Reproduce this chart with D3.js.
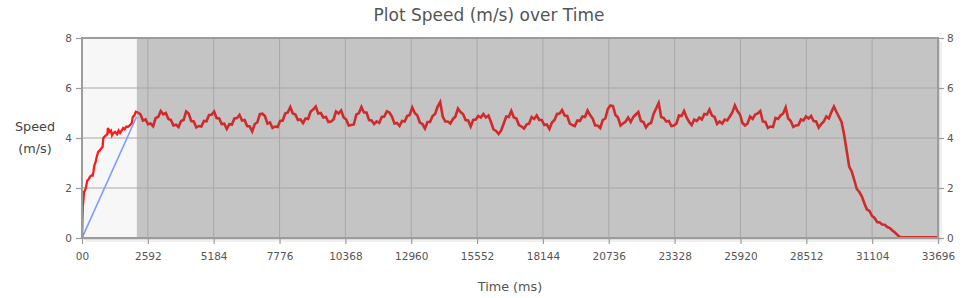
<!DOCTYPE html>
<html><head><meta charset="utf-8">
<script src="https://cdn.jsdelivr.net/npm/d3@7"></script>
<style>
body{margin:0;background:#fff}
svg{display:block;font-family:"DejaVu Sans",Verdana,sans-serif}
</style>
</head><body>
<svg id="chart" width="980" height="298"></svg>
<script>
// ---------- data ----------
const chartTitle = "Plot Speed (m/s) over Time";
const xAxisTitle = "Time (ms)";
const yAxisTitle = ["Speed", "(m/s)"];

const xTickValues = [0,2592,5184,7776,10368,12960,15552,18144,20736,23328,25920,28512,31104,33696];
const xTickLabels = ["00","2592","5184","7776","10368","12960","15552","18144","20736","23328","25920","28512","31104","33696"];
const yTickValues = [0,2,4,6,8];

const xDomain = [0, 33696];
const yDomain = [0, 8];
const warmupEndMs = 2160;

// start-up phase (bright red)
const rampTime  = [0,15,30,60,80,120,160,210,260,315,370,420,450,485,540,580,640,700,770,810,840,880,940,1000,1020,1080,1140,1180,1240,1300,1380,1440,1500,1560,1620,1680,1740,1810,1880,1960,2000,2060,2120,2200];
const rampSpeed = [0,0.7,1.25,1.55,1.85,1.9,2.05,2.3,2.35,2.45,2.5,2.5,2.65,2.9,3.05,3.25,3.45,3.5,3.6,3.65,4.0,4.05,4.1,4.15,4.4,4.25,4.3,4.1,4.2,4.25,4.15,4.3,4.2,4.3,4.4,4.35,4.45,4.45,4.5,4.6,4.85,4.9,5.05,5.02];

// reference straight line (blue)
const refTime  = [0, 2150];
const refSpeed = [0, 4.85];

// main run, sampled every 100 ms from 2200 ms
const runStartMs = 2200;
const runStepMs = 100;
const runSpeed = [
5.02,4.95,4.70,4.74,4.55,4.58,4.47,4.80,4.84,5.08,
4.95,5.00,4.76,4.72,4.50,4.53,4.44,4.68,4.72,5.06,
4.98,4.68,4.66,4.42,4.48,4.46,4.68,4.67,4.92,4.93,
5.06,4.80,4.78,4.56,4.57,4.36,4.55,4.54,4.78,4.80,
4.92,4.70,4.72,4.48,4.46,4.26,4.56,4.62,4.95,4.97,
4.88,4.58,4.62,4.40,4.46,4.44,4.68,4.70,4.98,5.02,
5.24,4.98,4.94,4.72,4.74,4.60,4.78,4.76,5.06,5.14,
5.26,4.98,5.00,4.82,4.84,4.64,4.66,4.74,5.06,4.98,
5.10,4.82,4.74,4.50,4.52,4.54,4.94,5.00,5.24,5.02,
5.02,4.72,4.70,4.56,4.66,4.60,4.84,4.86,5.07,5.02,
4.86,4.58,4.60,4.48,4.68,4.66,4.88,4.92,5.22,5.00,
4.90,4.62,4.56,4.38,4.64,4.64,4.88,4.96,5.26,5.44,
4.86,4.66,4.66,4.58,4.76,4.86,5.18,5.04,4.96,4.72,
4.70,4.46,4.72,4.74,4.88,4.82,4.96,4.82,4.90,4.64,
4.34,4.28,4.16,4.30,4.58,4.86,4.84,5.08,4.82,4.78,
4.52,4.46,4.38,4.54,4.58,4.84,4.76,4.90,4.72,4.72,
4.52,4.54,4.36,4.62,4.72,4.96,4.98,5.12,4.90,4.88,
4.58,4.52,4.48,4.70,4.68,4.86,4.84,5.10,4.92,4.78,
4.50,4.50,4.40,4.72,4.78,5.16,5.30,5.28,4.92,4.82,
4.50,4.58,4.66,4.82,4.64,4.84,4.94,5.04,4.68,4.64,
4.42,4.56,4.60,4.96,5.18,5.40,4.84,4.80,4.66,4.68,
4.48,4.50,4.58,4.90,4.88,5.08,4.82,4.64,4.52,4.74,
4.68,4.82,4.74,4.96,4.94,5.14,4.90,4.84,4.56,4.66,
4.58,4.74,4.70,4.86,5.02,5.30,5.08,4.94,4.60,4.50,
4.58,4.86,4.76,4.94,4.98,5.08,4.66,4.64,4.40,4.46,
4.44,4.80,4.76,4.90,4.98,5.22,4.78,4.68,4.44,4.50,
4.52,4.74,4.70,4.86,4.78,4.88,4.68,4.66,4.42,4.56,
4.66,4.86,4.78,5.04,5.26,5.04,4.84,4.64,4.14,3.50,
2.86,2.66,2.32,1.96,1.84,1.66,1.38,1.14,1.08,0.88,
0.80,0.64,0.62,0.54,0.53,0.44,0.40,0.30,0.22,0.12,
0.04,0.03,0.03,0.03,0.03,0.03,0.03,0.03,0.03,0.03,
0.03,0.03,0.03,0.03,0.03,0.03
];

// ---------- chart ----------
const svg = d3.select("#chart");
const plot = {left: 82, right: 938, top: 38, bottom: 238};
const x = d3.scaleLinear().domain(xDomain).range([plot.left, plot.right]);
const y = d3.scaleLinear().domain(yDomain).range([plot.bottom, plot.top]);
const pw = plot.right - plot.left, ph = plot.bottom - plot.top;

svg.append("defs").append("clipPath").attr("id","clip")
  .append("rect").attr("x",plot.left).attr("y",plot.top).attr("width",pw).attr("height",ph);

// shadow
svg.append("rect").attr("x",plot.left+4).attr("y",plot.top+4).attr("width",pw).attr("height",ph).attr("fill","#f0f0f0");
svg.append("rect").attr("x",plot.left+2).attr("y",plot.top+2).attr("width",pw).attr("height",ph).attr("fill","#dedede");

// backgrounds
svg.append("rect").attr("x",x(0)).attr("y",plot.top).attr("width",x(warmupEndMs)-x(0)).attr("height",ph).attr("fill","#f7f7f7");
svg.append("rect").attr("x",x(warmupEndMs)).attr("y",plot.top).attr("width",x(xDomain[1])-x(warmupEndMs)).attr("height",ph).attr("fill","#c4c4c4");

// grid
const grid = svg.append("g").attr("stroke","#a8a8a8").attr("stroke-width",1);
grid.selectAll("line.h").data(yTickValues.filter(v=>v>yDomain[0]&&v<yDomain[1])).join("line")
  .attr("x1",plot.left).attr("x2",plot.right).attr("y1",d=>y(d)).attr("y2",d=>y(d));
grid.selectAll("line.v").data(xTickValues.filter(v=>v>xDomain[0]&&v<xDomain[1])).join("line")
  .attr("y1",plot.top).attr("y2",plot.bottom).attr("x1",d=>x(d)).attr("x2",d=>x(d));

// lines
const lineGen = d3.line().x(d=>x(d[0])).y(d=>y(d[1]));
const clipG = svg.append("g").attr("clip-path","url(#clip)");
const refData = refTime.map((t,i)=>[t,refSpeed[i]]);
const rampData = rampTime.map((t,i)=>[t,rampSpeed[i]]);
const runData = runSpeed.map((v,i)=>[runStartMs + i*runStepMs, v]);

clipG.append("path").datum(refData).attr("d",lineGen).attr("fill","none").attr("stroke","#7d9cff").attr("stroke-width",1.6);
clipG.append("path").datum(rampData).attr("d",lineGen).attr("fill","none").attr("stroke","#ff1a1a").attr("stroke-width",2.3).attr("stroke-linejoin","miter");
clipG.append("path").datum(runData).attr("d",lineGen).attr("fill","none").attr("stroke","#d02a2a").attr("stroke-width",2.6).attr("stroke-linejoin","miter");

// frame
svg.append("rect").attr("x",plot.left).attr("y",plot.top).attr("width",pw).attr("height",ph)
  .attr("fill","none").attr("stroke","#9c9c9c").attr("stroke-width",2);

// axes
function styleAxis(g){
  g.select(".domain").remove();
  g.selectAll(".tick line").attr("stroke","#9c9c9c").attr("stroke-width",1.2);
  g.selectAll(".tick text").attr("fill","#555").style("font-size","10.5px").style("font-family","'DejaVu Sans',Verdana,sans-serif");
}
svg.append("g").attr("transform",`translate(${plot.left},0)`)
  .call(d3.axisLeft(y).tickValues(yTickValues).tickSize(6).tickPadding(4).tickFormat(d3.format("d")))
  .call(styleAxis);
svg.append("g").attr("transform",`translate(${plot.right},0)`)
  .call(d3.axisRight(y).tickValues(yTickValues).tickSize(6).tickPadding(3).tickFormat(d3.format("d")))
  .call(styleAxis);
svg.append("g").attr("transform",`translate(0,${plot.bottom})`)
  .call(d3.axisBottom(x).tickValues(xTickValues).tickSize(6).tickPadding(9).tickFormat((d,i)=>xTickLabels[i]))
  .call(styleAxis);

// titles
svg.append("text").attr("x",489).attr("y",21).attr("text-anchor","middle")
  .attr("fill","#555").style("font-size","17px").text(chartTitle);
svg.append("text").attr("x",(plot.left+plot.right)/2).attr("y",291).attr("text-anchor","middle")
  .attr("fill","#555").style("font-size","12.8px").text(xAxisTitle);
svg.append("text").attr("x",35).attr("y",131).attr("text-anchor","middle")
  .attr("fill","#444").style("font-size","12.8px").text(yAxisTitle[0]);
svg.append("text").attr("x",35).attr("y",153).attr("text-anchor","middle")
  .attr("fill","#444").style("font-size","12.8px").text(yAxisTitle[1]);
</script>
</body></html>
